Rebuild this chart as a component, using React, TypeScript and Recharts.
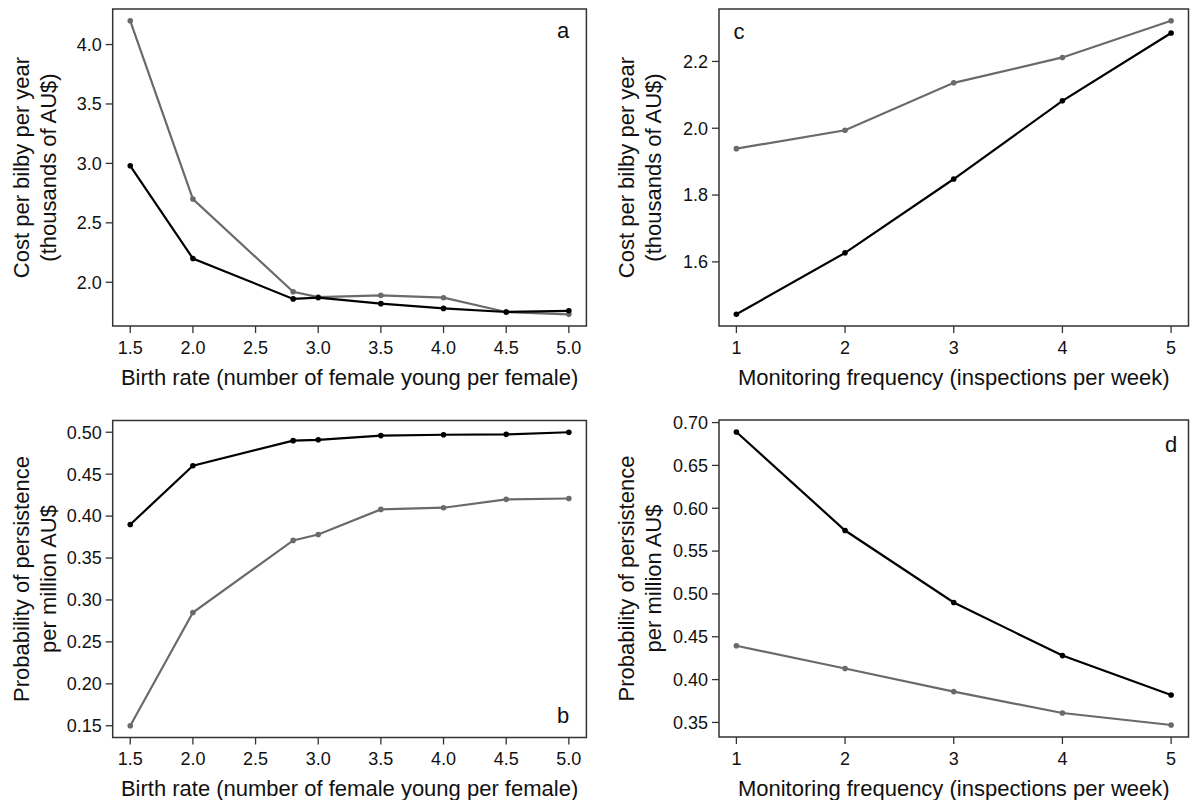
import React from 'react';
import { LineChart, Line, XAxis, YAxis, ReferenceArea } from 'recharts';

// ---------- data ----------
const birthRates = [1.5, 2.0, 2.8, 3.0, 3.5, 4.0, 4.5, 5.0];
const costBlackA = [2.98, 2.2, 1.86, 1.87, 1.82, 1.78, 1.75, 1.76];
const costGrayA = [4.2, 2.7, 1.92, 1.875, 1.89, 1.87, 1.75, 1.73];
const probBlackB = [0.39, 0.46, 0.49, 0.491, 0.496, 0.497, 0.4975, 0.5];
const probGrayB = [0.15, 0.285, 0.371, 0.378, 0.408, 0.41, 0.42, 0.421];

const monitoring = [1, 2, 3, 4, 5];
const costBlackC = [1.443, 1.627, 1.848, 2.082, 2.285];
const costGrayC = [1.939, 1.994, 2.136, 2.212, 2.322];
const probBlackD = [0.689, 0.574, 0.49, 0.428, 0.382];
const probGrayD = [0.4395, 0.413, 0.386, 0.361, 0.347];

const birthTicks = [1.5, 2.0, 2.5, 3.0, 3.5, 4.0, 4.5, 5.0];
const monitorTicks = [1, 2, 3, 4, 5];
const costTicksA = [2.0, 2.5, 3.0, 3.5, 4.0];
const probTicksB = [0.15, 0.2, 0.25, 0.3, 0.35, 0.4, 0.45, 0.5];
const costTicksC = [1.6, 1.8, 2.0, 2.2];
const probTicksD = [0.35, 0.4, 0.45, 0.5, 0.55, 0.6, 0.65, 0.7];

const birthDomain: [number, number] = [1.36, 5.14];
const monitorDomain: [number, number] = [0.84, 5.16];
const costDomainA: [number, number] = [1.632, 4.299];
const probDomainB: [number, number] = [0.136, 0.514];
const costDomainC: [number, number] = [1.408, 2.357];
const probDomainD: [number, number] = [0.333, 0.703];

const xTitleBirth = 'Birth rate (number of female young per female)';
const xTitleMonitor = 'Monitoring frequency (inspections per week)';
const yTitleCost = ['Cost per bilby per year', '(thousands of AU$)'];
const yTitleProb = ['Probability of persistence', 'per million AU$'];

const dataA = birthRates.map((x, i) => ({ x, black: costBlackA[i], gray: costGrayA[i] }));
const dataB = birthRates.map((x, i) => ({ x, black: probBlackB[i], gray: probGrayB[i] }));
const dataC = monitoring.map((x, i) => ({ x, black: costBlackC[i], gray: costGrayC[i] }));
const dataD = monitoring.map((x, i) => ({ x, black: probBlackD[i], gray: probGrayD[i] }));

// ---------- style ----------
const FONT = '"Liberation Sans", Arial, Helvetica, sans-serif';
const TICK_FONT = 18;
const TITLE_FONT = 22;
const BLACK = '#000000';
const GRAY = '#6a6a6a';
const AXIS = '#333333';

type PanelProps = {
  left: number;
  top: number;
  width: number;
  height: number;
  data: { x: number; black: number; gray: number }[];
  xDomain: [number, number];
  xTicks: number[];
  xDigits: number;
  yDomain: [number, number];
  yTicks: number[];
  yDigits: number;
  yAxisWidth: number;
  margin: { top: number; right: number; bottom: number; left: number };
  xTitle: string;
  yTitles: string[];
  yTitleX: [number, number];
  letter: string;
  letterPos: [number, number];
};

function Panel(p: PanelProps) {
  const xLabelContent = (props: any) => {
    const vb = props.viewBox || {};
    return (
      <text
        x={vb.x + vb.width / 2}
        y={vb.y + 51}
        textAnchor="middle"
        dominantBaseline="central"
        fontSize={TITLE_FONT}
        fontFamily={FONT}
        fill="#111"
      >
        {p.xTitle}
      </text>
    );
  };
  const yLabelContent = (props: any) => {
    const vb = props.viewBox || {};
    const cy = vb.y + vb.height / 2;
    return (
      <g>
        {p.yTitles.map((t, i) => (
          <text
            key={i}
            x={p.yTitleX[i]}
            y={cy}
            transform={`rotate(-90, ${p.yTitleX[i]}, ${cy})`}
            textAnchor="middle"
            dominantBaseline="central"
            fontSize={TITLE_FONT}
            fontFamily={FONT}
            fill="#111"
          >
            {t}
          </text>
        ))}
      </g>
    );
  };
  return (
    <div style={{ position: 'absolute', left: p.left, top: p.top, width: p.width, height: p.height }}>
      <LineChart width={p.width} height={p.height} data={p.data} margin={p.margin}>
        <XAxis
          dataKey="x"
          type="number"
          domain={p.xDomain}
          ticks={p.xTicks}
          allowDataOverflow
          tickFormatter={(v: number) => v.toFixed(p.xDigits)}
          axisLine={false}
          tickLine={{ stroke: AXIS, strokeWidth: 1.3 }}
          tickSize={7}
          tickMargin={8}
          height={60}
          interval={0}
          tick={{ fontSize: TICK_FONT, fontFamily: FONT, fill: '#111' }}
          label={{ content: xLabelContent }}
        />
        <YAxis
          type="number"
          domain={p.yDomain}
          ticks={p.yTicks}
          allowDataOverflow
          tickFormatter={(v: number) => v.toFixed(p.yDigits)}
          axisLine={false}
          tickLine={{ stroke: AXIS, strokeWidth: 1.3 }}
          tickSize={7}
          tickMargin={4}
          width={p.yAxisWidth}
          interval={0}
          tick={{ fontSize: TICK_FONT, fontFamily: FONT, fill: '#111' }}
          label={{ content: yLabelContent }}
        />
        <ReferenceArea
          x1={p.xDomain[0]}
          x2={p.xDomain[1]}
          y1={p.yDomain[0]}
          y2={p.yDomain[1]}
          fill="none"
          fillOpacity={0}
          stroke={AXIS}
          strokeWidth={1.5}
          ifOverflow="visible"
        />
        <Line
          type="linear"
          dataKey="gray"
          stroke={GRAY}
          strokeWidth={2.2}
          dot={{ r: 2.8, fill: GRAY, stroke: GRAY, strokeWidth: 0 }}
          activeDot={false}
          isAnimationActive={false}
        />
        <Line
          type="linear"
          dataKey="black"
          stroke={BLACK}
          strokeWidth={2.2}
          dot={{ r: 2.8, fill: BLACK, stroke: BLACK, strokeWidth: 0 }}
          activeDot={false}
          isAnimationActive={false}
        />
      </LineChart>
      <div
        style={{
          position: 'absolute',
          left: p.letterPos[0],
          top: p.letterPos[1],
          transform: 'translate(-50%, -50%)',
          fontFamily: FONT,
          fontSize: TITLE_FONT,
          color: '#111',
          lineHeight: 1,
        }}
      >
        {p.letter}
      </div>
    </div>
  );
}

export default function App() {
  return (
    <div
      style={{
        position: 'absolute',
        left: 0,
        top: 0,
        width: 1190,
        height: 800,
        background: '#ffffff',
        overflow: 'hidden',
      }}
    >
      <Panel
        left={0}
        top={0}
        width={595}
        height={400}
        data={dataA}
        xDomain={birthDomain}
        xTicks={birthTicks}
        xDigits={1}
        yDomain={costDomainA}
        yTicks={costTicksA}
        yDigits={1}
        yAxisWidth={112.7}
        margin={{ top: 9, right: 8.6, bottom: 14, left: 0 }}
        xTitle={xTitleBirth}
        yTitles={yTitleCost}
        yTitleX={[21, 48]}
        letter="a"
        letterPos={[563, 31]}
      />
      <Panel
        left={0}
        top={400}
        width={595}
        height={400}
        data={dataB}
        xDomain={birthDomain}
        xTicks={birthTicks}
        xDigits={1}
        yDomain={probDomainB}
        yTicks={probTicksB}
        yDigits={2}
        yAxisWidth={112.7}
        margin={{ top: 20.5, right: 8.6, bottom: 2.5, left: 0 }}
        xTitle={xTitleBirth}
        yTitles={yTitleProb}
        yTitleX={[21, 48]}
        letter="b"
        letterPos={[563, 316]}
      />
      <Panel
        left={595}
        top={0}
        width={595}
        height={400}
        data={dataC}
        xDomain={monitorDomain}
        xTicks={monitorTicks}
        xDigits={0}
        yDomain={costDomainC}
        yTicks={costTicksC}
        yDigits={1}
        yAxisWidth={124}
        margin={{ top: 9, right: 1.5, bottom: 14, left: 0 }}
        xTitle={xTitleMonitor}
        yTitles={yTitleCost}
        yTitleX={[31, 58]}
        letter="c"
        letterPos={[144, 32]}
      />
      <Panel
        left={595}
        top={400}
        width={595}
        height={400}
        data={dataD}
        xDomain={monitorDomain}
        xTicks={monitorTicks}
        xDigits={0}
        yDomain={probDomainD}
        yTicks={probTicksD}
        yDigits={2}
        yAxisWidth={124}
        margin={{ top: 20, right: 1.5, bottom: 3, left: 0 }}
        xTitle={xTitleMonitor}
        yTitles={yTitleProb}
        yTitleX={[31, 58]}
        letter="d"
        letterPos={[576, 45]}
      />
    </div>
  );
}
